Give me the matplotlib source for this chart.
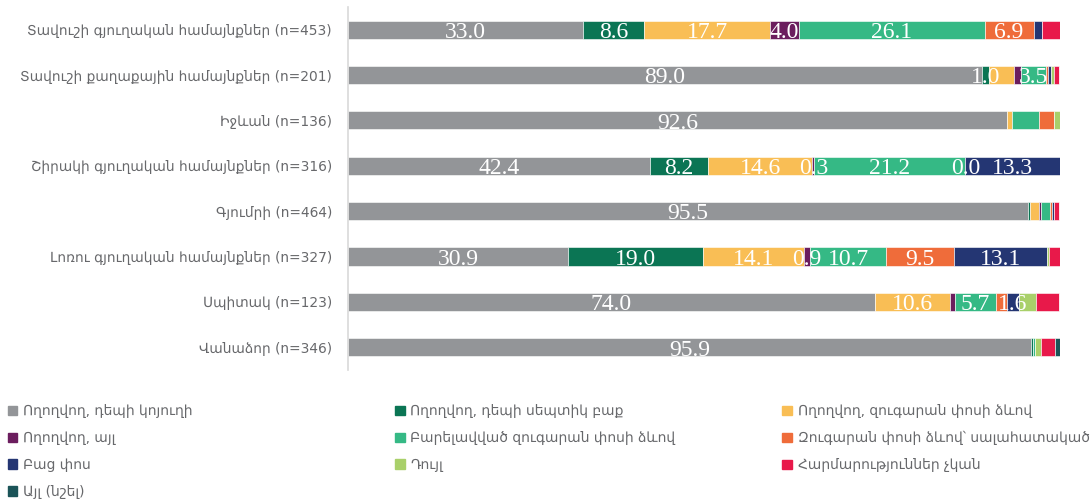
import matplotlib.pyplot as plt
import matplotlib.patches as mpatches
import numpy as np

plt.rcParams['font.family'] = ['DejaVu Sans']

# rows, top to bottom
regions = ['Տավուշի գյուղական համայնքներ (n=453)',
           'Տավուշի քաղաքային համայնքներ (n=201)',
           'Իջևան (n=136)',
           'Շիրակի գյուղական համայնքներ (n=316)',
           'Գյումրի (n=464)',
           'Լոռու գյուղական համայնքներ (n=327)',
           'Սպիտակ (n=123)',
           'Վանաձոր (n=346)']

categories = ['Ողողվող, դեպի կոյուղի',
              'Ողողվող, դեպի սեպտիկ բաք',
              'Ողողվող, զուգարան փոսի ձևով',
              'Ողողվող, այլ',
              'Բարելավված զուգարան փոսի ձևով',
              'Զուգարան փոսի ձևով՝ սալահատակած',
              'Բաց փոս',
              'Դույլ',
              'Հարմարություններ չկան',
              'Այլ (նշել)']

sewer      = [33.0, 89.0, 92.6, 42.4, 95.5, 30.9, 74.0, 95.9]
septic     = [8.6, 1.0, 0.0, 8.2, 0.3, 19.0, 0.0, 0.3]
flush_pit  = [17.7, 3.5, 0.7, 14.6, 1.3, 14.1, 10.6, 0.0]
flush_oth  = [4.0, 1.0, 0.0, 0.3, 0.2, 0.9, 0.7, 0.0]
improved   = [26.1, 3.5, 3.7, 21.2, 1.3, 10.7, 5.7, 0.3]
slab       = [6.9, 0.3, 2.2, 0.0, 0.3, 9.5, 1.6, 0.0]
open_pit   = [1.2, 0.4, 0.0, 13.3, 0.2, 13.1, 1.6, 0.0]
bucket     = [0.0, 0.4, 0.8, 0.0, 0.0, 0.3, 2.4, 0.8]
no_fac     = [2.5, 0.7, 0.0, 0.0, 0.8, 1.5, 3.3, 2.0]
other      = [0.0, 0.0, 0.0, 0.0, 0.0, 0.0, 0.0, 0.7]

series = [sewer, septic, flush_pit, flush_oth, improved, slab, open_pit, bucket, no_fac, other]

# which segments carry a value label: (series index, row index)
labelled = [(0, 0), (1, 0), (2, 0), (3, 0), (4, 0), (5, 0),
            (0, 1), (1, 1), (4, 1),
            (0, 2),
            (0, 3), (1, 3), (2, 3), (3, 3), (4, 3), (5, 3), (6, 3),
            (0, 4),
            (0, 5), (1, 5), (2, 5), (3, 5), (4, 5), (5, 5), (6, 5),
            (0, 6), (2, 6), (4, 6), (6, 6),
            (0, 7)]

colors = ['#939598', '#0b7554', '#f9be55', '#6b1d5e', '#35b985',
          '#ef6c3a', '#243673', '#a9d06a', '#e8194a', '#1b5458']

fig = plt.figure(figsize=(10.91, 5.01), dpi=100)
ax = fig.add_axes([0.319, 0.2615, 0.6526, 0.7246])

y = np.arange(len(regions))
left = np.zeros(len(regions))
bars = []
for vals, c in zip(series, colors):
    b = ax.barh(y, vals, left=left, height=0.4, color=c, edgecolor='white', linewidth=0.4, zorder=2)
    bars.append(b)
    left += np.array(vals)

for si, ri in labelled:
    rect = bars[si][ri]
    xc = rect.get_x() + rect.get_width() / 2
    ax.text(xc, ri + 0.06, f'{series[si][ri]:.1f}', ha='center', va='center',
            color='white', fontsize=17, family='Liberation Serif', zorder=3)

ax.set_xlim(0, 100)
ax.set_ylim(7.5, -0.5)
ax.set_yticks(y, regions)
ax.tick_params(axis='y', length=0, pad=11.5, labelsize=9.9, labelcolor='#67686b')
ax.set_xticks([])
for s in ['top', 'right', 'bottom']:
    ax.spines[s].set_visible(False)
ax.spines['left'].set_color('#d9d9d9')
ax.spines['left'].set_linewidth(1.2)

# legend: three columns, filled row by row
handles = [mpatches.Patch(color=c) for c in colors]
col_x = [0.007, 0.362, 0.717]
for k in range(3):
    idx = list(range(k, len(categories), 3))
    fig.legend([handles[i] for i in idx], [categories[i] for i in idx],
               loc='upper left', bbox_to_anchor=(col_x[k], 0.193), frameon=False,
               fontsize=10, labelcolor='#67686b', handlelength=0.7, handleheight=0.7,
               handletextpad=0.4, labelspacing=0.93, borderaxespad=0, borderpad=0)

fig.savefig('out.png', dpi=100)
